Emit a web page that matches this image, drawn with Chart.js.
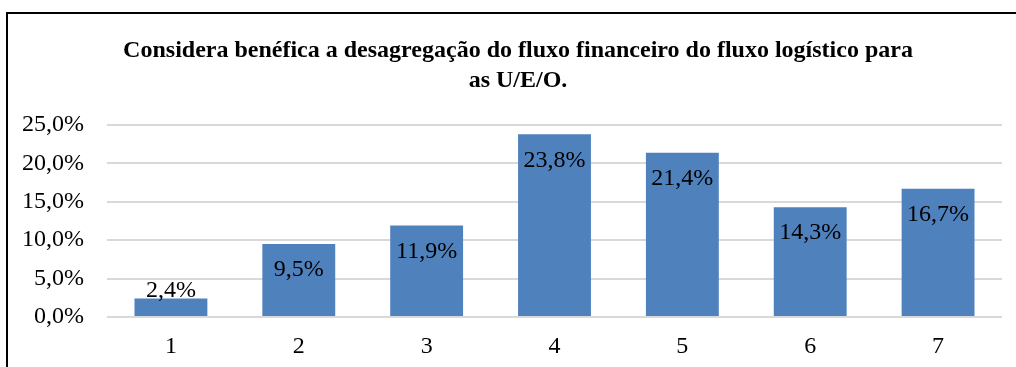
<!DOCTYPE html>
<html>
<head>
<meta charset="utf-8">
<script src="https://cdn.jsdelivr.net/npm/chart.js@4"></script>
<style>
  html, body { margin: 0; padding: 0; background: #fff; overflow: hidden; width: 1016px; height: 367px; }
  #frame { position: absolute; left: 6px; top: 12px; width: 1100px; height: 400px; border: 2px solid #000; box-sizing: border-box; }
  #chart { position: absolute; left: 0; top: 0; }
</style>
</head>
<body>
<div id="frame"></div>
<canvas id="chart" width="1036" height="367"></canvas>
<script>
const categories = ["1", "2", "3", "4", "5", "6", "7"];
const percentages = [2.4, 9.5, 11.9, 23.8, 21.4, 14.3, 16.7];
const titleLines = [
  "Considera benéfica a desagregação do fluxo financeiro do fluxo logístico para",
  "as U/E/O."
];

const serif = "'Liberation Serif', 'Times New Roman', serif";
const fmt = (v, d) => v.toFixed(d).replace(".", ",") + "%";

// title centred on the whole frame, not on the plot
const frameTitle = {
  id: "frameTitle",
  afterDraw(chart) {
    const ctx = chart.ctx;
    ctx.save();
    ctx.font = "bold 24px " + serif;
    ctx.fillStyle = "#000";
    ctx.textAlign = "center";
    ctx.textBaseline = "middle";
    titleLines.forEach((line, i) => ctx.fillText(line, chart.width / 2, 51 + i * 30));
    ctx.restore();
  }
};

// value labels sit just inside the top of each bar
const barLabels = {
  id: "barLabels",
  afterDatasetsDraw(chart) {
    const ctx = chart.ctx;
    const meta = chart.getDatasetMeta(0);
    ctx.save();
    ctx.font = "24px " + serif;
    ctx.fillStyle = "#000";
    ctx.textAlign = "center";
    ctx.textBaseline = "middle";
    meta.data.forEach((bar, i) => {
      const y = Math.min(bar.y + 26, bar.base - 25);
      ctx.fillText(fmt(percentages[i], 1), bar.x, y);
    });
    ctx.restore();
  }
};

new Chart(document.getElementById("chart").getContext("2d"), {
  type: "bar",
  data: {
    labels: categories,
    datasets: [{
      data: percentages,
      backgroundColor: "#4f81bd",
      barPercentage: 0.57,
      categoryPercentage: 1
    }]
  },
  options: {
    responsive: false,
    animation: false,
    layout: { padding: { top: 125, right: 34 } },
    plugins: {
      legend: { display: false },
      tooltip: { enabled: false },
      title: { display: false }
    },
    scales: {
      x: {
        grid: { display: false },
        border: { display: false },
        ticks: {
          color: "#000",
          padding: 7,
          font: { family: serif, size: 24 }
        },
        afterFit: s => { s.height = 50; }
      },
      y: {
        min: 0,
        max: 25,
        grid: { color: "#d9d9d9", lineWidth: 2, drawTicks: false },
        border: { display: false },
        ticks: {
          stepSize: 5,
          color: "#000",
          padding: 23,
          font: { family: serif, size: 24 },
          callback: v => fmt(v, 1)
        },
        afterFit: s => { s.width = 107; }
      }
    }
  },
  plugins: [barLabels, frameTitle]
});
</script>
</body>
</html>
